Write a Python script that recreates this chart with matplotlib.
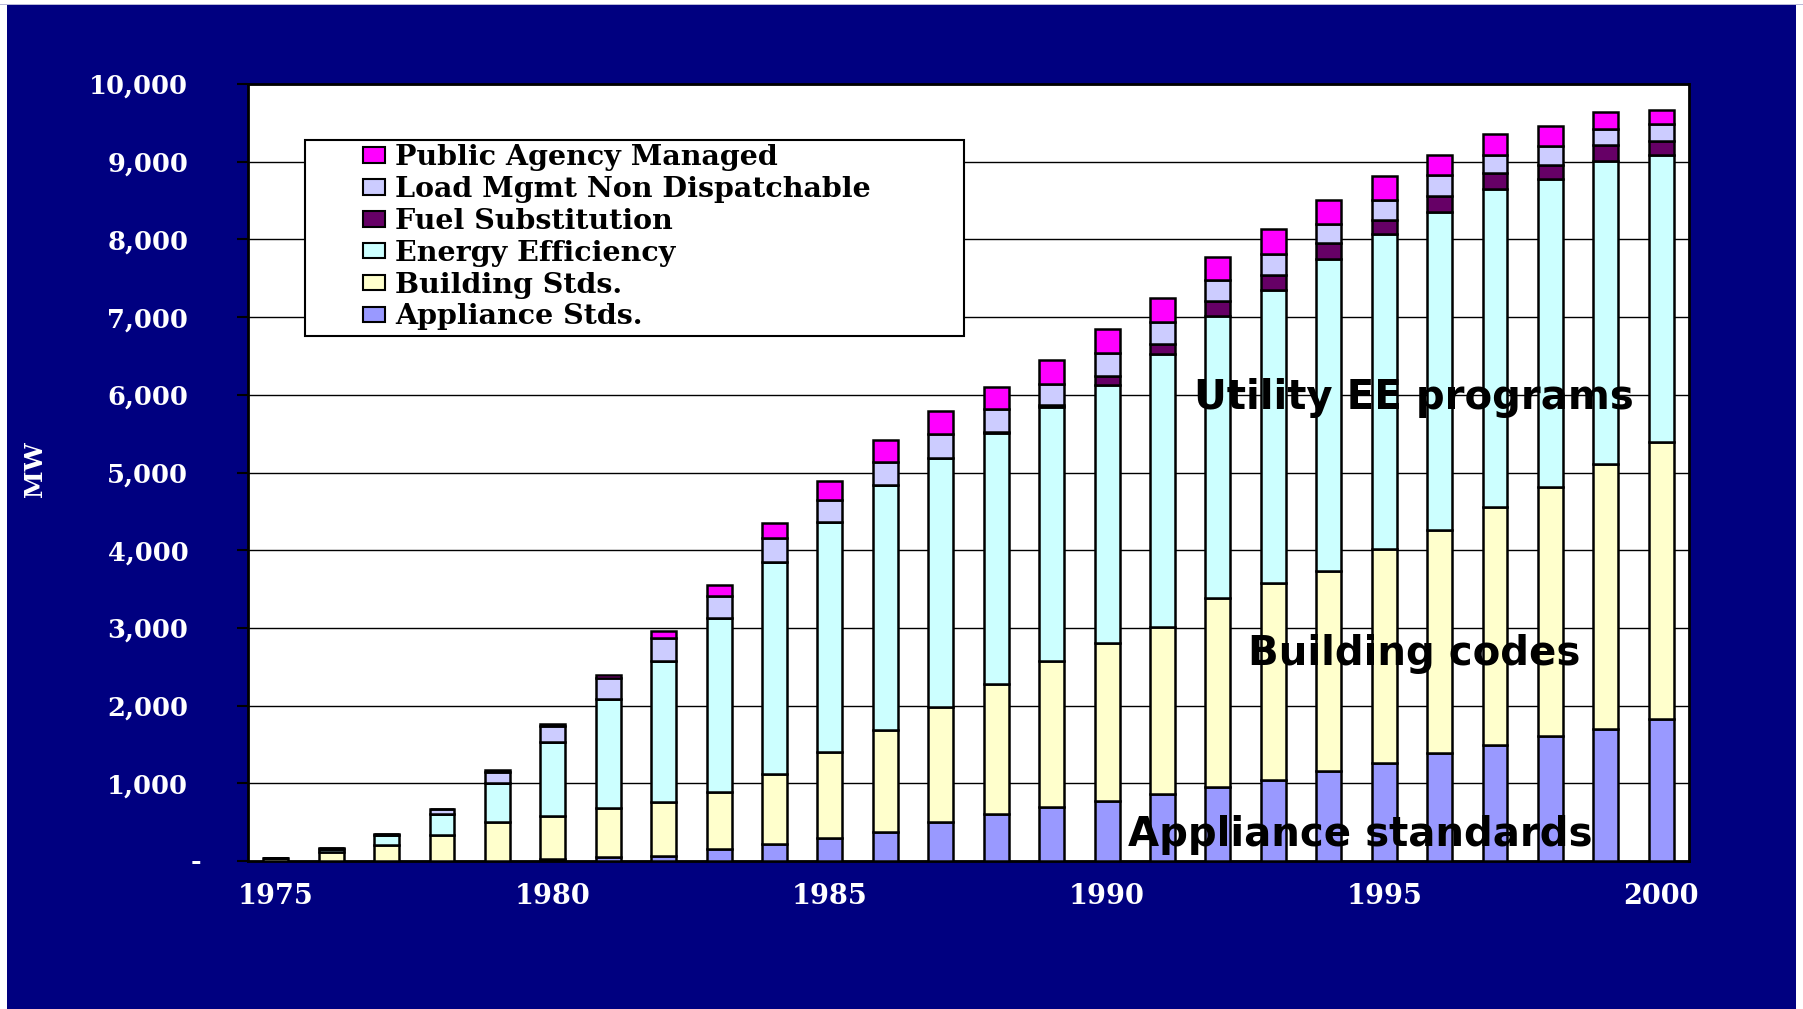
import matplotlib
matplotlib.use("Agg")
import matplotlib.pyplot as plt
from matplotlib.patches import Rectangle, Patch

# ---------------- data ----------------
years = list(range(1975, 2001))
appliance = [0, 0, 0, 0, 0, 20, 47, 69, 158, 225, 293, 369, 496, 599, 698, 766,
             860, 948, 1046, 1164, 1262, 1393, 1492, 1610, 1702, 1833]
building = [45, 120, 206, 335, 506, 559, 631, 686, 729, 901, 1104, 1320, 1486, 1676, 1870, 2036,
            2150, 2432, 2531, 2572, 2754, 2866, 3062, 3206, 3410, 3560]
energy_eff = [0, 35, 130, 265, 502, 948, 1407, 1819, 2244, 2717, 2968, 3154, 3199, 3230, 3275, 3325,
              3510, 3639, 3770, 4017, 4051, 4097, 4097, 3967, 3900, 3692]
fuel_sub = [0, 0, 0, 0, 0, 0, 0, 0, 0, 0, 0, 0, 0, 15, 30, 112,
            135, 190, 191, 197, 178, 197, 204, 177, 204, 177]
load_mgmt = [0, 8, 15, 70, 142, 210, 275, 292, 279, 315, 275, 293, 315, 291, 267, 296,
             280, 263, 269, 249, 262, 276, 230, 236, 210, 223]
public_agency = [0, 0, 0, 0, 20, 20, 34, 98, 140, 198, 248, 279, 293, 293, 302, 311,
                 310, 302, 321, 308, 309, 256, 275, 262, 216, 183]

series_names = ["Appliance Stds.", "Building Stds.", "Energy Efficiency",
                "Fuel Substitution", "Load Mgmt Non Dispatchable", "Public Agency Managed"]
series_vals = [appliance, building, energy_eff, fuel_sub, load_mgmt, public_agency]
series_colors = ["#9999FF", "#FFFFCC", "#CCFFFF", "#660066", "#CCCCFF", "#FF00FF"]

ytick_vals = list(range(0, 10001, 1000))
ytick_labels = [""] + ["{:,}".format(v) for v in ytick_vals[1:]]
xtick_vals = [1975, 1980, 1985, 1990, 1995, 2000]
annotations = [("Utility EE programs", 1995.54, 5960),
               ("Building codes", 1995.55, 2666),
               ("Appliance standards", 1994.56, 336)]

# ---------------- figure ----------------
W, H = 1803, 1009
fig = plt.figure(figsize=(W / 100, H / 100), dpi=100)
fig.patch.set_facecolor("white")
NAVY = "#000080"
fig.patches.append(Rectangle((7 / W, 0), (1796 - 7) / W, (H - 5) / H,
                             transform=fig.transFigure, facecolor=NAVY,
                             edgecolor="none", zorder=-2))
fig.patches.append(Rectangle((0, (H - 5) / H), 1, 1.5 / H, transform=fig.transFigure,
                             facecolor="#b8b8d8", edgecolor="none", zorder=-2))

ax = fig.add_axes([248 / W, (H - 861) / H, (1689 - 248) / W, (861 - 84) / H])
ax.set_zorder(1)
ax.set_facecolor("white")

bottom = [0] * len(years)
for name, vals, col in zip(series_names, series_vals, series_colors):
    ax.bar(years, vals, width=0.45, bottom=bottom, color=col, edgecolor="black",
           linewidth=1.8, zorder=3, label=name)
    bottom = [b + v for b, v in zip(bottom, vals)]

ax.set_xlim(1974.5, 2000.5)
ax.set_ylim(0, 10000)
ax.set_yticks(ytick_vals)
ax.set_yticklabels(ytick_labels)
ax.set_xticks(xtick_vals)
ax.set_xticklabels([str(v) for v in xtick_vals])

tick_font = dict(family="DejaVu Serif", weight="bold", size=18.5)
for lab in ax.get_yticklabels():
    lab.set_fontfamily("DejaVu Serif")
    lab.set_fontweight("bold")
    lab.set_fontsize(18.5)
    lab.set_color("white")
for lab in ax.get_xticklabels():
    lab.set_fontfamily("DejaVu Serif")
    lab.set_fontweight("bold")
    lab.set_fontsize(19.5)
    lab.set_color("white")
ax.tick_params(axis="y", length=8, width=1.5, color="black", pad=35)
ax.tick_params(axis="x", length=0, pad=16)

# zero label "-"
ax.annotate("-", xy=(0, 0), xycoords=("axes fraction", "data"),
            xytext=(-47 * 0.72, 0), textcoords="offset points",
            ha="right", va="center", color="white", annotation_clip=False, **tick_font)

ax.yaxis.grid(True, color="black", linewidth=1.0, zorder=1)
ax.set_axisbelow(True)
for sp in ax.spines.values():
    sp.set_color("black")
    sp.set_linewidth(2)

# y label
fig.text(35 / W, 1 - 469 / H, "MW", rotation=90, color="white", ha="center", va="center",
         fontfamily="DejaVu Serif", fontweight="bold", fontsize=18)

# annotations
for txt, x, y in annotations:
    ax.text(x, y, txt, ha="center", va="center", fontsize=29, fontweight="bold",
            fontfamily="DejaVu Sans", color="black", zorder=6)

# legend with a separate frame
ax.add_patch(Rectangle((0.0396, 0.6757), 0.4573, 0.2523, transform=ax.transAxes,
                       facecolor="white", edgecolor="black", linewidth=1.5, zorder=4.5))
handles = [Patch(facecolor=c, edgecolor="black", linewidth=1.5, label=n)
           for n, c in zip(series_names, series_colors)][::-1]
leg = ax.legend(handles=handles, loc="upper left", bbox_to_anchor=(0.0798, 0.9225),
                frameon=False, borderpad=0, borderaxespad=0, handlelength=0.78,
                handleheight=0.46, handletextpad=0.35, labelspacing=0.17,
                prop=dict(family="DejaVu Serif", weight="bold", size=20.5))
leg.set_zorder(5)

fig.savefig("out.png", dpi=100, facecolor=fig.get_facecolor())
